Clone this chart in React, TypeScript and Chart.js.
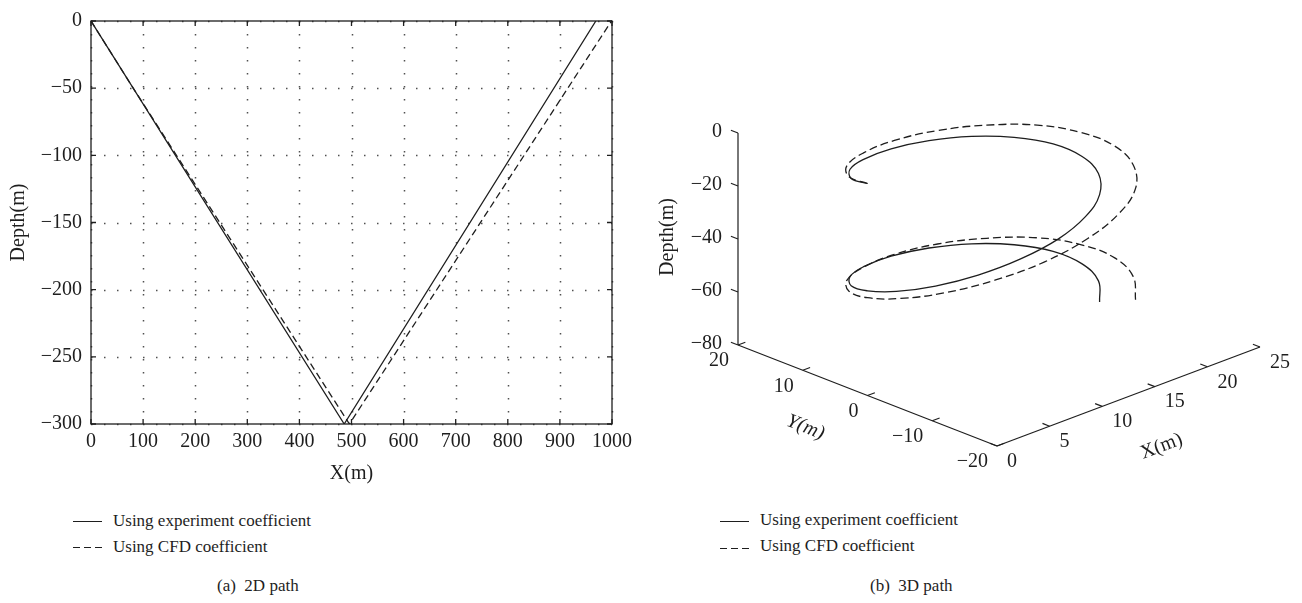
import React, { useEffect, useRef } from 'react';
import { Chart, registerables } from 'chart.js';

Chart.register(...registerables);

const SERIF = "'Liberation Serif', 'Times New Roman', 'DejaVu Serif', serif";
const INK = '#1e1e1e';

const legendLabels = ['Using experiment coefficient', 'Using CFD coefficient'];
const captions = ['(a)  2D path', '(b)  3D path'];

// ---------- (a) 2D path ----------
const xTicks2D = [0, 100, 200, 300, 400, 500, 600, 700, 800, 900, 1000];
const depthTicks2D = [0, -50, -100, -150, -200, -250, -300];
const expX2D = [0, 486, 969];
const expDepth2D = [0, -300, 0];
const cfdX2D = [0, 81, 496, 999];
const cfdDepth2D = [0, -50, -300, 0];

// ---------- (b) 3D path ----------
const xTicks3D = [0, 5, 10, 15, 20, 25];
const yTicks3D = [20, 10, 0, -10, -20];
const zTicks3D = [0, -20, -40, -60, -80];

const expX3D = [0, 0.6, 2.4, 5.1, 8.4, 12.0, 15.3, 18.0, 19.8, 20.4, 19.8, 18.0, 15.3, 12.0, 8.4, 5.1, 2.4, 0.6, 0, 0.6, 2.4, 5.1, 8.4, 12.0, 15.3, 18.0, 19.8, 20.4, 19.8, 18.0];
const expY3D = [0, 3.5, 6.6, 8.8, 10.0, 10.0, 8.8, 6.6, 3.5, 0, -3.5, -6.6, -8.8, -10.0, -10.0, -8.8, -6.6, -3.5, 0, 3.5, 6.6, 8.8, 10.0, 10.0, 8.8, 6.6, 3.5, 0, -3.5, -6.6];
const expZ3D = [0, -2.3, -4.5, -6.8, -9.0, -11.3, -13.5, -15.8, -18.0, -20.3, -22.5, -24.8, -27.0, -29.3, -31.5, -33.8, -36.0, -38.3, -40.5, -42.8, -45.0, -47.3, -49.5, -51.8, -54.0, -56.3, -58.5, -60.8, -63.0, -65.3];

const cfdX3D = [0, 0.7, 2.7, 5.9, 9.7, 13.8, 17.6, 20.8, 22.8, 23.5, 22.8, 20.8, 17.6, 13.8, 9.7, 5.9, 2.7, 0.7, 0, 0.7, 2.7, 5.9, 9.7, 13.8, 17.6, 20.8, 22.8, 23.5, 22.8, 20.8];
const cfdY3D = [0, 4.0, 7.6, 10.2, 11.6, 11.6, 10.2, 7.6, 4.0, 0, -4.0, -7.6, -10.2, -11.6, -11.6, -10.2, -7.6, -4.0, 0, 4.0, 7.6, 10.2, 11.6, 11.6, 10.2, 7.6, 4.0, 0, -4.0, -7.6];
const cfdZ3D = [0, -2.3, -4.7, -7.0, -9.3, -11.7, -14.0, -16.3, -18.7, -21.0, -23.3, -25.7, -28.0, -30.3, -33.0, -35.5, -38.0, -40.6, -43.1, -45.5, -47.9, -50.1, -52.3, -54.5, -56.7, -58.8, -61.0, -63.2, -65.4, -67.7];

const fmt = (v: number) => (v < 0 ? '\u2212' + Math.abs(v) : String(v));

// oblique view used for the 3D panel (screen units per metre)
const VIEW = { exU: 10.52, exV: 3.96, eyU: -6.475, eyV: 2.525, ezV: 2.65 };
const project = (X: number, Y: number, Z: number) => ({
  x: VIEW.exU * X + VIEW.eyU * Y,
  y: VIEW.exV * X + VIEW.eyV * Y + VIEW.ezV * Z,
});

const frame2D = {
  id: 'frame2D',
  beforeDatasetsDraw(chart: any) {
    const { ctx, chartArea: a, scales } = chart;
    const xs = scales.x, ys = scales.y;
    ctx.save();
    ctx.strokeStyle = '#505050';
    ctx.lineWidth = 1.5;
    ctx.setLineDash([1.5, 11.5]);
    xTicks2D.forEach((v) => {
      const px = Math.round(xs.getPixelForValue(v)) + 0.5;
      ctx.beginPath(); ctx.moveTo(px, a.top); ctx.lineTo(px, a.bottom); ctx.stroke();
    });
    depthTicks2D.forEach((v) => {
      const py = Math.round(ys.getPixelForValue(v)) + 0.5;
      ctx.beginPath(); ctx.moveTo(a.left, py); ctx.lineTo(a.right, py); ctx.stroke();
    });
    ctx.restore();
  },
  afterDatasetsDraw(chart: any) {
    const { ctx, chartArea: a, scales } = chart;
    const xs = scales.x, ys = scales.y;
    const t = 5;
    ctx.save();
    ctx.strokeStyle = INK;
    ctx.lineWidth = 1.3;
    ctx.setLineDash([]);
    ctx.strokeRect(a.left, a.top, a.right - a.left, a.bottom - a.top);
    xTicks2D.forEach((v) => {
      const px = xs.getPixelForValue(v);
      ctx.beginPath();
      ctx.moveTo(px, a.bottom); ctx.lineTo(px, a.bottom - t);
      ctx.moveTo(px, a.top); ctx.lineTo(px, a.top + t);
      ctx.stroke();
    });
    depthTicks2D.forEach((v) => {
      const py = ys.getPixelForValue(v);
      ctx.beginPath();
      ctx.moveTo(a.left, py); ctx.lineTo(a.left + t, py);
      ctx.moveTo(a.right, py); ctx.lineTo(a.right - t, py);
      ctx.stroke();
    });
    ctx.restore();
  },
};

const axes3D = {
  id: 'axes3D',
  afterDatasetsDraw(chart: any) {
    const { ctx, scales } = chart;
    const xs = scales.x, ys = scales.y;
    const P = (X: number, Y: number, Z: number): [number, number] => {
      const p = project(X, Y, Z);
      return [xs.getPixelForValue(p.x), ys.getPixelForValue(p.y)];
    };
    const xMin = Math.min(...xTicks3D), xMax = Math.max(...xTicks3D);
    const yMin = Math.min(...yTicks3D), yMax = Math.max(...yTicks3D);
    const zMin = Math.min(...zTicks3D), zMax = Math.max(...zTicks3D);
    ctx.save();
    ctx.strokeStyle = INK;
    ctx.lineWidth = 1.2;
    const seg = (p: [number, number], q: [number, number]) => {
      ctx.beginPath(); ctx.moveTo(p[0], p[1]); ctx.lineTo(q[0], q[1]); ctx.stroke();
    };
    zTicks3D.forEach((z) => seg(P(xMin, yMax, z), P(xMin, yMax + 1.1, z)));
    yTicks3D.forEach((y) => seg(P(xMin, y, zMin), P(xMin + 0.7, y, zMin)));
    xTicks3D.forEach((x) => seg(P(x, yMin, zMin), P(x, yMin + 1.1, zMin)));

    ctx.fillStyle = INK;
    ctx.font = `20px ${SERIF}`;
    ctx.textBaseline = 'middle';
    ctx.textAlign = 'right';
    zTicks3D.forEach((z) => { const [px, py] = P(xMin, yMax, z); ctx.fillText(fmt(z), px - 16, py - 1); });
    yTicks3D.forEach((y) => { const [px, py] = P(xMin, y, zMin); ctx.fillText(fmt(y), px - 9, py + 16); });
    ctx.textAlign = 'left';
    xTicks3D.forEach((x) => { const [px, py] = P(x, yMin, zMin); ctx.fillText(fmt(x), px + 10, py + 15.5); });

    ctx.textAlign = 'center';
    ctx.font = `20px ${SERIF}`;
    {
      const [px, py] = P(xMin, yMax, (zMin + zMax) / 2);
      ctx.save(); ctx.translate(px - 70, py - 2); ctx.rotate(-Math.PI / 2); ctx.fillText('Depth(m)', 0, 0); ctx.restore();
    }
    {
      const a = P(xMin, yMax, zMin), b = P(xMin, yMin, zMin);
      const ang = Math.atan2(b[1] - a[1], b[0] - a[0]);
      const [px, py] = P(xMin, (yMin + yMax) / 2, zMin);
      ctx.save(); ctx.font = `italic 20px ${SERIF}`; ctx.translate(px - 62, py + 32); ctx.rotate(ang); ctx.fillText('Y(m)', 0, 0); ctx.restore();
    }
    {
      const a = P(xMin, yMin, zMin), b = P(xMax, yMin, zMin);
      const ang = Math.atan2(b[1] - a[1], b[0] - a[0]);
      const [px, py] = P((xMin + xMax) / 2, yMin, zMin);
      ctx.save(); ctx.translate(px + 33, py + 50); ctx.rotate(ang); ctx.fillText('X(m)', 0, 0); ctx.restore();
    }
    ctx.restore();
  },
};

function LegendBlock({ lineLeft, textLeft, rows, captionLeft, caption }: any) {
  return (
    <>
      {rows.map((r: any, i: number) => (
        <React.Fragment key={i}>
          <div
            style={{
              position: 'absolute', left: lineLeft, top: r.lineY, width: 29, height: 1.2,
              background: r.dashed
                ? `repeating-linear-gradient(to right, ${INK} 0px, ${INK} 7px, transparent 7px, transparent 11px)`
                : INK,
            }}
          />
          <div style={{ position: 'absolute', left: textLeft, top: r.textTop, fontSize: 17, lineHeight: '20px', whiteSpace: 'pre' }}>
            {legendLabels[i]}
          </div>
        </React.Fragment>
      ))}
      <div style={{ position: 'absolute', left: captionLeft, top: 576, fontSize: 17, lineHeight: '20px', whiteSpace: 'pre' }}>
        {caption}
      </div>
    </>
  );
}

export default function App() {
  const refA = useRef<HTMLCanvasElement>(null);
  const refB = useRef<HTMLCanvasElement>(null);

  useEffect(() => {
    const tickFont = { family: SERIF, size: 20 };
    const titleFont = { family: SERIF, size: 20 };
    const chartA = new Chart(refA.current as HTMLCanvasElement, {
      type: 'scatter',
      data: {
        datasets: [
          {
            label: legendLabels[0],
            data: expX2D.map((x, i) => ({ x, y: expDepth2D[i] })),
            showLine: true, borderColor: INK, borderWidth: 1.3, pointRadius: 0, tension: 0,
          },
          {
            label: legendLabels[1],
            data: cfdX2D.map((x, i) => ({ x, y: cfdDepth2D[i] })),
            showLine: true, borderColor: INK, borderWidth: 1.3, borderDash: [7, 4], pointRadius: 0, tension: 0,
          },
        ],
      },
      options: {
        animation: false,
        responsive: false,
        layout: { padding: { left: 0, right: 38, top: 13, bottom: 0 } },
        plugins: { legend: { display: false }, tooltip: { enabled: false } },
        scales: {
          x: {
            type: 'linear', min: 0, max: 1000,
            afterBuildTicks: (s: any) => { s.ticks = xTicks2D.map((v) => ({ value: v })); },
            afterFit: (s: any) => { s.height = 66; },
            ticks: { font: tickFont, color: INK, padding: 6, maxRotation: 0, callback: (v: any) => fmt(Number(v)) },
            grid: { display: false, drawTicks: false },
            border: { display: false },
            title: { display: true, text: 'X(m)', font: titleFont, color: INK, padding: { top: 0, bottom: 4 } },
          },
          y: {
            type: 'linear', min: -300, max: 0,
            afterBuildTicks: (s: any) => { s.ticks = depthTicks2D.map((v) => ({ value: v })); },
            afterFit: (s: any) => { s.width = 91; },
            ticks: { font: tickFont, color: INK, padding: 9, callback: (v: any) => fmt(Number(v)) },
            grid: { display: false, drawTicks: false },
            border: { display: false },
            title: { display: true, text: 'Depth(m)', font: titleFont, color: INK, padding: { top: 7, bottom: 0 } },
          },
        },
      },
      plugins: [frame2D],
    } as any);

    const xMin = Math.min(...xTicks3D), xMax = Math.max(...xTicks3D);
    const yMin = Math.min(...yTicks3D), yMax = Math.max(...yTicks3D);
    const zMin = Math.min(...zTicks3D), zMax = Math.max(...zTicks3D);
    const axisLine = (pts: number[][]) => ({
      data: pts.map((p) => project(p[0], p[1], p[2])),
      showLine: true, borderColor: INK, borderWidth: 1.2, pointRadius: 0, tension: 0,
    });

    const chartB = new Chart(refB.current as HTMLCanvasElement, {
      type: 'scatter',
      data: {
        datasets: [
          {
            label: legendLabels[0],
            data: expX3D.map((x, i) => project(x, expY3D[i], expZ3D[i])),
            showLine: true, borderColor: INK, borderWidth: 1.3, pointRadius: 0, tension: 0.4,
          },
          {
            label: legendLabels[1],
            data: cfdX3D.map((x, i) => project(x, cfdY3D[i], cfdZ3D[i])),
            showLine: true, borderColor: INK, borderWidth: 1.3, borderDash: [8, 4], pointRadius: 0, tension: 0.4,
          },
          axisLine([[xMin, yMax, zMax], [xMin, yMax, zMin]]),
          axisLine([[xMin, yMax, zMin], [xMin, yMin, zMin]]),
          axisLine([[xMin, yMin, zMin], [xMax, yMin, zMin]]),
        ],
      },
      options: {
        animation: false,
        responsive: false,
        layout: { padding: 0 },
        plugins: { legend: { display: false }, tooltip: { enabled: false } },
        scales: {
          x: { type: 'linear', min: -217.5, max: 434.5, display: false },
          y: { type: 'linear', min: -296.5, max: 183.5, display: false },
        },
      },
      plugins: [axes3D],
    } as any);

    return () => { chartA.destroy(); chartB.destroy(); };
  }, []);

  return (
    <div style={{ position: 'absolute', left: 0, top: 0, width: 1302, height: 603, background: '#fff', fontFamily: SERIF, color: INK, overflow: 'hidden' }}>
      <canvas ref={refA} width={650} height={490} style={{ position: 'absolute', left: 0, top: 0 }} />
      <canvas ref={refB} width={652} height={480} style={{ position: 'absolute', left: 650, top: 0 }} />
      <LegendBlock
        lineLeft={73} textLeft={113} captionLeft={217} caption={captions[0]}
        rows={[{ lineY: 521, textTop: 511, dashed: false }, { lineY: 547, textTop: 537, dashed: true }]}
      />
      <LegendBlock
        lineLeft={720} textLeft={760} captionLeft={870} caption={captions[1]}
        rows={[{ lineY: 521, textTop: 510, dashed: false }, { lineY: 548, textTop: 536, dashed: true }]}
      />
    </div>
  );
}
